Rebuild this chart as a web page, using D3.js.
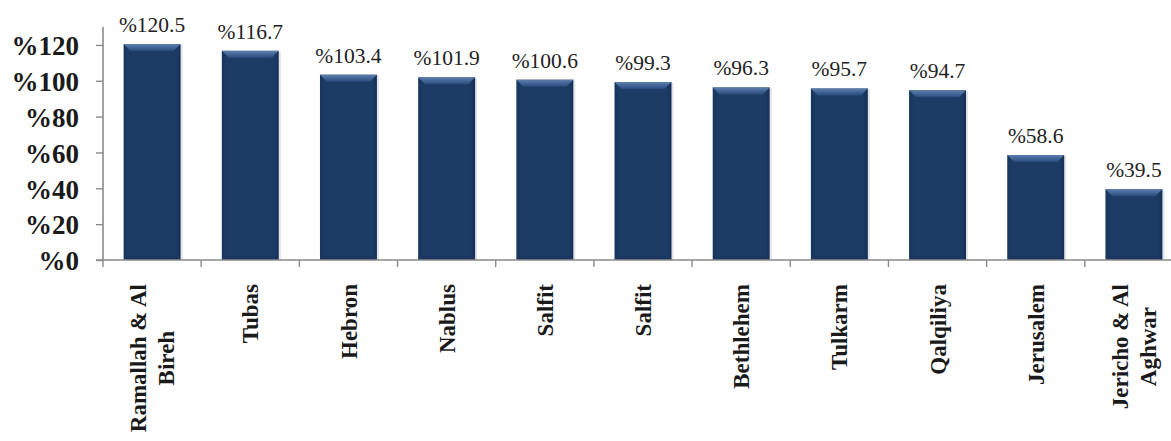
<!DOCTYPE html>
<html>
<head>
<meta charset="utf-8">
<script src="https://cdn.jsdelivr.net/npm/d3@7"></script>
<style>
html,body{margin:0;padding:0;background:#fff;}
svg{display:block;}
text{font-family:"Liberation Serif","Tinos","Times New Roman","DejaVu Serif",serif;}
</style>
</head>
<body>
<svg id="chart" width="1171" height="441"></svg>
<script>
const categories = [
  ["Ramallah & Al", "Bireh"],
  ["Tubas"],
  ["Hebron"],
  ["Nablus"],
  ["Salfit"],
  ["Salfit"],
  ["Bethlehem"],
  ["Tulkarm"],
  ["Qalqiliya"],
  ["Jerusalem"],
  ["Jericho & Al", "Aghwar"]
];
const values = [120.5, 116.7, 103.4, 101.9, 100.6, 99.3, 96.3, 95.7, 94.7, 58.6, 39.5];
const yTicks = [0, 20, 40, 60, 80, 100, 120];

(function () {
const svg = d3.select("#chart");
const mL = 103, mR = 1183, mT = 27, mB = 260;
const FONT = '"Liberation Serif","Tinos","Times New Roman","DejaVu Serif",serif';

const keys = categories.map((c, i) => i);
const x = d3.scaleBand().domain(keys).range([mL, mR]).paddingInner(0.42).paddingOuter(0.21);
const xc = d3.scaleBand().domain(keys).range([mL, mR]);
const y = d3.scaleLinear().domain([0, 130]).range([mB, mT]);

const defs = svg.append("defs");
const gTop = defs.append("linearGradient").attr("id", "gtop").attr("x1", 0).attr("y1", 0).attr("x2", 0).attr("y2", 1);
gTop.append("stop").attr("offset", "0%").attr("stop-color", "#5d7fae");
gTop.append("stop").attr("offset", "100%").attr("stop-color", "#2a4c7d");
const gBody = defs.append("linearGradient").attr("id", "gbody").attr("x1", 0).attr("y1", 0).attr("x2", 1).attr("y2", 0);
gBody.append("stop").attr("offset", "0%").attr("stop-color", "#16345c");
gBody.append("stop").attr("offset", "8%").attr("stop-color", "#1c3b65");
gBody.append("stop").attr("offset", "92%").attr("stop-color", "#1c3b65");
gBody.append("stop").attr("offset", "100%").attr("stop-color", "#14305a");

// Y axis
const yAxis = d3.axisLeft(y).tickValues(yTicks).tickSize(7).tickFormat(d => "%" + d);
const ya = svg.append("g").attr("transform", `translate(${mL},0)`).call(yAxis);
ya.attr("font-family", null).attr("font-size", null);
ya.select(".domain").attr("stroke", "#8a8a8a").attr("stroke-width", 1.6).attr("d", `M0,${mT}V${mB}`);
ya.selectAll(".tick line").attr("stroke", "#8a8a8a").attr("stroke-width", 1.4);
ya.selectAll(".tick text")
  .attr("x", -24)
  .attr("dy", "0.36em")
  .style("font-family", FONT)
  .style("font-weight", "bold")
  .style("font-size", "27px")
  .attr("fill", "#1a1a1a");

// Bars
const bars = svg.append("g");
values.forEach((v, i) => {
  const bx = x(i), bw = x.bandwidth(), by = y(v), bh = y(0) - y(v);
  const g = bars.append("g");
  g.append("rect").attr("x", bx + 2).attr("y", by + 1).attr("width", bw).attr("height", bh - 1)
    .attr("fill", "#d0d0d0").attr("opacity", 0.6);
  g.append("rect").attr("x", bx).attr("y", by).attr("width", bw).attr("height", bh)
    .attr("fill", "url(#gbody)");
  const bev = 7;
  g.append("path")
    .attr("d", `M${bx},${by}H${bx + bw}L${bx + bw - bev},${by + bev}H${bx + bev}Z`)
    .attr("fill", "url(#gtop)");
  g.append("path")
    .attr("d", `M${bx},${by + bh}H${bx + bw}L${bx + bw - 4},${by + bh - 4}H${bx + 4}Z`)
    .attr("fill", "#1a3760");
});

// Value labels
svg.append("g").selectAll("text").data(values).join("text")
  .attr("x", (d, i) => x(i) + x.bandwidth() / 2)
  .attr("y", d => y(d) - 12)
  .attr("text-anchor", "middle")
  .style("font-family", FONT)
  .style("font-size", "21.5px")
  .attr("fill", "#222")
  .text(d => "%" + d.toFixed(1));

// X axis
const xAxis = d3.axisBottom(xc).tickSize(0).tickFormat("");
const xa = svg.append("g").attr("transform", `translate(0,${mB})`).call(xAxis);
xa.select(".domain").attr("stroke", "#8a8a8a").attr("stroke-width", 1.6).attr("d", `M${mL - 7},0H${mR}`);
const tickPos = keys.map(k => xc(k)).concat([mR]);
xa.selectAll("line.sep").data(tickPos).join("line").attr("class", "sep")
  .attr("x1", d => d).attr("x2", d => d).attr("y1", 0).attr("y2", 7)
  .attr("stroke", "#8a8a8a").attr("stroke-width", 1.4);

// X labels
const lab = svg.append("g");
categories.forEach((lines, i) => {
  const cx = xc(i) + xc.bandwidth() / 2;
  const g = lab.append("g").attr("transform", `translate(${cx},${mB + 24}) rotate(-90)`);
  const n = lines.length;
  const ts = lines.map((t, j) => g.append("text")
    .attr("y", (j - (n - 1) / 2) * 28)
    .attr("dy", "0.35em")
    .attr("x", 0)
    .attr("text-anchor", "end")
    .style("font-family", FONT)
    .style("font-weight", "bold")
    .style("font-size", "23px")
    .attr("fill", "#1a1a1a")
    .text(t));
  if (n > 1) {
    const lens = ts.map(t => t.node().getComputedTextLength());
    const maxL = Math.max(...lens);
    ts.forEach((t, j) => {
      if (lens[j] < maxL) t.attr("text-anchor", "middle").attr("x", -maxL / 2);
    });
  }
});
})();
</script>
</body>
</html>
